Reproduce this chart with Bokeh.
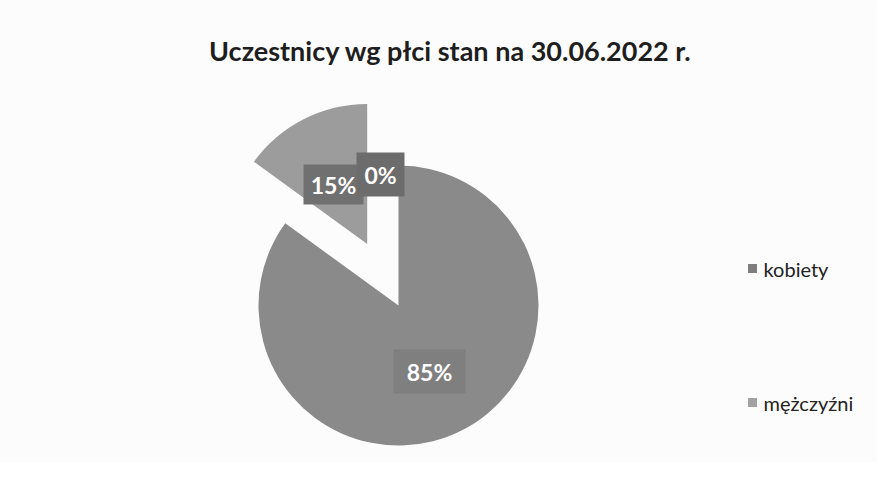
import math
from bokeh.plotting import figure
from bokeh.models import Range1d
from bokeh.core.properties import value
from bokeh.embed import file_html
from bokeh.resources import INLINE

# ---- data ----
categories = ["kobiety", "mężczyźni", ""]
values = [85, 15, 0]
legend_names = ["kobiety", "mężczyźni"]
title_text = "Uczestnicy wg płci stan na 30.06.2022 r."

# ---- styles / layout ----
slice_colors = ["#8a8a8a", "#9c9c9c", "#8a8a8a"]
legend_colors = ["#7e7e7e", "#a2a2a2"]
explode = [0, 69, 0]
W, H = 877, 462
FONT = "Lato"

def Y(y_img):
    return H - y_img

p = figure(width=W, height=H, x_range=Range1d(0, W), y_range=Range1d(0, H),
           output_backend="svg", toolbar_location=None, min_border=0)
p.axis.visible = False
p.grid.visible = False
p.outline_line_color = None
p.background_fill_color = "#fcfcfc"
p.border_fill_color = "#fcfcfc"

cx, cy, r = 398, Y(305), 140
total = sum(values)
cum = 0.0
for v, col, ex in zip(values, slice_colors, explode):
    f0 = cum / total
    f1 = (cum + v) / total
    cum += v
    if v == 0:
        continue
    mid = math.pi / 2 - (f0 + f1) / 2 * 2 * math.pi
    ox, oy = ex * math.cos(mid), ex * math.sin(mid)
    p.wedge(x=[cx + ox], y=[cy + oy], radius=r,
            start_angle=[math.pi / 2 - f0 * 2 * math.pi],
            end_angle=[math.pi / 2 - f1 * 2 * math.pi],
            direction="clock", fill_color=col, line_color=None)

# data labels (boxes + text)
label_pos = [(429, 371, 72, 44, "#7f7f7f"), (333, 184, 60, 40, "#707070"), (380, 174, 48, 44, "#6c6c6c")]
for v, (lx, ly, bw, bh, bc) in zip(values, label_pos):
    p.rect(x=[lx], y=[Y(ly)], width=bw, height=bh, fill_color=bc, line_color=None)
for v, (lx, ly, bw, bh, bc) in zip(values, label_pos):
    p.text(x=[lx], y=[Y(ly)], text=[f"{v}%"], text_align="center", text_baseline="middle",
           text_font=value(FONT), text_font_style="bold", text_font_size="23px",
           text_color="white")

# title
p.text(x=[450], y=[Y(50)], text=[title_text], text_align="center", text_baseline="middle",
       text_font=value(FONT), text_font_style="bold", text_font_size="27px", text_color="#1e1e1e")

# legend
leg_y = [268, 402]
for name, col, ly in zip(legend_names, legend_colors, leg_y):
    p.rect(x=[752], y=[Y(ly)], width=9, height=9, fill_color=col, line_color=None)
    p.text(x=[763], y=[Y(ly)], text=[name], text_align="left", text_baseline="middle",
           text_font=value(FONT), text_font_size="20px", text_color="#222222")

open("out.html", "w").write(file_html(p, INLINE))
